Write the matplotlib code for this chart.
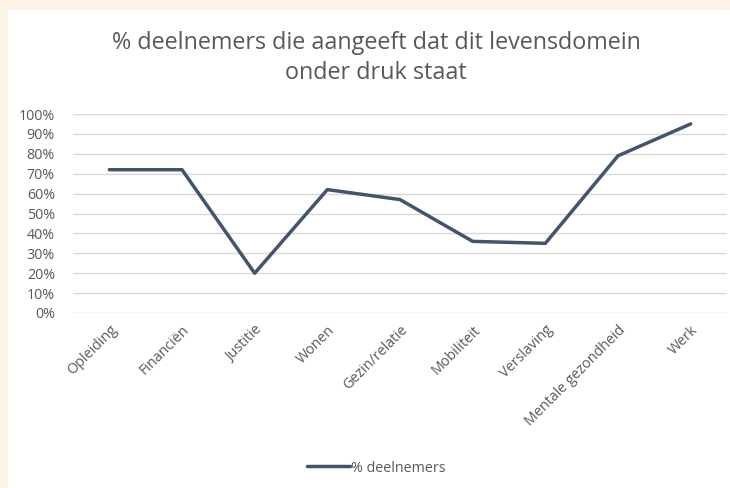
import matplotlib
matplotlib.use("Agg")
import matplotlib.pyplot as plt
from matplotlib.patches import Rectangle
from matplotlib.ticker import MultipleLocator, FuncFormatter

categories = ["Opleiding", "Financiën", "Justitie", "Wonen", "Gezin/relatie",
              "Mobiliteit", "Verslaving", "Mentale gezondheid", "Werk"]
values = [72, 72, 20, 62, 57, 36, 35, 79, 95]
series_name = "% deelnemers"
title = "% deelnemers die aangeeft dat dit levensdomein\nonder druk staat"

W, H = 730, 488
fig = plt.figure(figsize=(W / 100, H / 100), dpi=100)
fig.patch.set_facecolor("#FDF4E7")
fig.add_artist(Rectangle((8 / W, 0), 1 - 8 / W, 1 - 10 / H, transform=fig.transFigure,
                         facecolor="white", edgecolor="none", zorder=0))

plt.rcParams['font.family'] = ['Open Sans', 'DejaVu Sans']
grey = "#595959"
fs = 10.3

ax = fig.add_axes([73 / W, 1 - 313 / H, (727 - 73) / W, (313 - 114) / H])
ax.set_facecolor("none")
x = list(range(len(categories)))
ax.plot(x, values, color="#44546A", linewidth=2.5, label=series_name, solid_capstyle="round",
        zorder=3)
ax.set_xlim(-0.5, len(categories) - 0.5)
ax.set_ylim(0, 100)
ax.yaxis.set_major_locator(MultipleLocator(10))
ax.yaxis.set_major_formatter(FuncFormatter(lambda v, p: f"{int(v)}%"))
ax.grid(axis="y", color="#D9D9D9", linewidth=1)
ax.set_axisbelow(True)
for s in ax.spines.values():
    s.set_visible(False)
ax.tick_params(axis="both", length=0, colors=grey, labelsize=fs)
ax.tick_params(axis="y", pad=13)
ax.set_xticks(x)
ax.set_xticklabels(categories, rotation=45, ha="right", rotation_mode="anchor")
ax.tick_params(axis="x", pad=7)

fig.text(376 / W, 1 - 58 / H, title, ha="center", va="center", fontsize=16.8,
         color=grey, linespacing=1.3)

fig.legend(loc="center", bbox_to_anchor=(376 / W, 1 - 468 / H), frameon=False,
           fontsize=fs, labelcolor=grey, handlelength=3.0, handletextpad=0.05)

fig.savefig("out.png", dpi=100)
